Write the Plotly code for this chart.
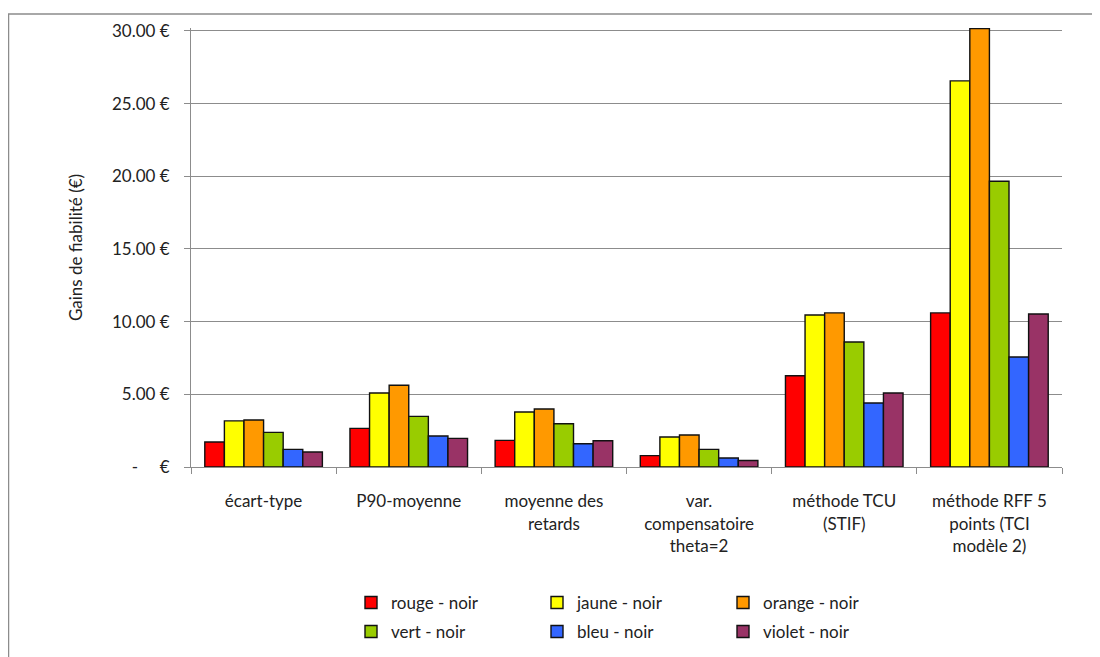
import plotly.graph_objects as go

categories = [
    "écart-type",
    "P90-moyenne",
    "moyenne des<br>retards",
    "var.<br>compensatoire<br>theta=2",
    "méthode TCU<br>(STIF)",
    "méthode RFF 5<br>points (TCI<br>modèle 2)",
]

series_names = ["rouge - noir", "jaune - noir", "orange - noir",
                "vert - noir", "bleu - noir", "violet - noir"]

rouge = [1.72, 2.66, 1.83, 0.78, 6.28, 10.60]
jaune = [3.17, 5.09, 3.78, 2.06, 10.46, 26.56]
orange = [3.23, 5.62, 3.99, 2.20, 10.60, 30.16]
vert = [2.38, 3.48, 2.98, 1.21, 8.60, 19.66]
bleu = [1.21, 2.13, 1.60, 0.62, 4.40, 7.57]
violet = [1.03, 1.97, 1.81, 0.45, 5.09, 10.53]

series_values = [rouge, jaune, orange, vert, bleu, violet]
colors = ["#FF0000", "#FFFF00", "#FF9900", "#99CC00", "#3366FF", "#993366"]

tick_vals = [0, 5, 10, 15, 20, 25, 30]
tick_text = ["-\u00a0\u00a0\u00a0\u00a0\u00a0€", "5.00 €", "10.00 €", "15.00 €",
             "20.00 €", "25.00 €", "30.00 €"]

FONT = "Lato, 'Open Sans', sans-serif"
TEXT_COLOR = "#222222"
FS = 17

fig = go.Figure()
for i, (name, vals, col) in enumerate(zip(series_names, series_values, colors)):
    fig.add_trace(go.Bar(
        x=categories, y=vals, name=name,
        marker=dict(color=col, line=dict(color="#111111", width=1.4)),
        legend="legend" if i < 3 else "legend2",
    ))

# page body has an 8px margin: screen = figure + 8
OFF = 8
W, H = 1100, 657
L = 191 - OFF
T = 28 - OFF
R = W - (1062 - OFF)
B = H - (467 - OFF)
pw = W - L - R
ph = H - T - B

def sx(p):
    return (p - OFF - L) / pw

def sy(p):
    return (H - B - (p - OFF)) / ph

legend_common = dict(
    orientation="h",
    xanchor="left",
    yanchor="middle",
    entrywidth=141,
    entrywidthmode="pixels",
    font=dict(family=FONT, size=FS, color=TEXT_COLOR),
    bgcolor="rgba(0,0,0,0)",
    itemclick=False,
)

fig.update_layout(
    width=W, height=H,
    margin=dict(l=L, r=R, t=T, b=B, autoexpand=False),
    paper_bgcolor="white",
    plot_bgcolor="white",
    barmode="group",
    bargap=0.19,
    bargroupgap=0,
    font=dict(family=FONT, size=FS, color=TEXT_COLOR),
    legend=dict(x=sx(351), y=sy(603), **legend_common),
    legend2=dict(x=sx(351), y=sy(632), **legend_common),
    xaxis=dict(
        type="category",
        showline=True, linecolor="#8c8c8c", linewidth=1,
        ticks="outside", ticklen=6, tickcolor="#8c8c8c",
        tickson="boundaries",
        showgrid=False,
        tickfont=dict(family=FONT, size=FS, color=TEXT_COLOR),
        ticklabelstandoff=19,
        automargin=False,
    ),
    yaxis=dict(
        range=[0, 30.2],
        tickvals=tick_vals, ticktext=tick_text,
        showline=True, linecolor="#8c8c8c", linewidth=1,
        ticks="outside", ticklen=6, tickcolor="#8c8c8c",
        showgrid=True, gridcolor="#8c8c8c", gridwidth=1,
        zeroline=False,
        tickfont=dict(family=FONT, size=FS, color=TEXT_COLOR),
        ticklabelstandoff=11,
        title=dict(text="Gains de fiabilité (€)",
                   font=dict(family=FONT, size=FS, color=TEXT_COLOR),
                   standoff=24),
        automargin=False,
    ),
    shapes=[dict(
        type="rect", xref="paper", yref="paper",
        x0=sx(8.5), x1=sx(1130), y0=sy(690), y1=sy(14),
        line=dict(color="#8c8c8c", width=1.5), fillcolor="rgba(0,0,0,0)",
        layer="below",
    )],
)

fig.write_html("out.html")
